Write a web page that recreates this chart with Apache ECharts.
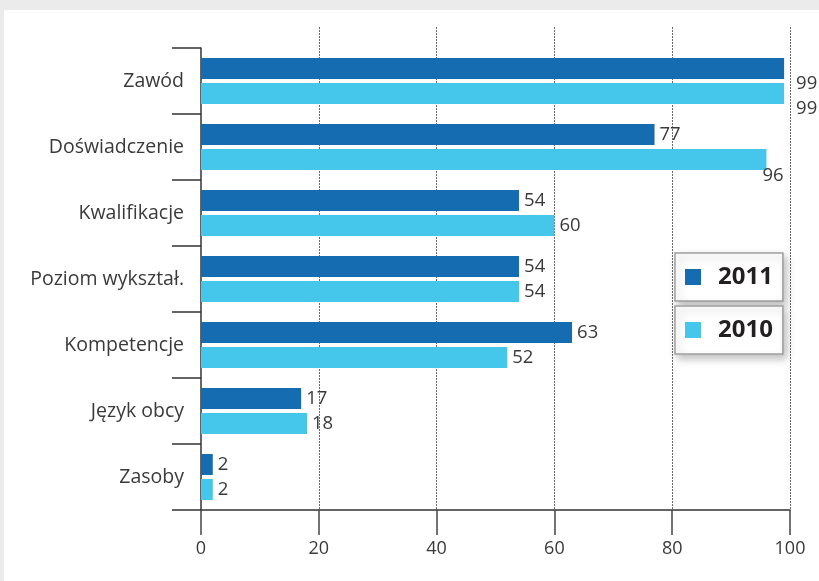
<!DOCTYPE html>
<html><head><meta charset="utf-8">
<script src="https://cdn.jsdelivr.net/npm/echarts@6/dist/echarts.min.js"></script>
<style>
html,body{margin:0;padding:0;width:819px;height:581px;background:#ebebeb;overflow:hidden;}
#c{position:absolute;left:4px;top:10px;width:815px;height:571px;background:#fff;}
</style></head>
<body><div id="c"></div>
<script>
const categories = ['Zawód','Doświadczenie','Kwalifikacje','Poziom wykształ.','Kompetencje','Język obcy','Zasoby'];
const seriesNames = ['2011','2010'];
const values2011 = [99,77,54,54,63,17,2];
const values2010 = [99,96,60,54,52,18,2];
const xMin = 0, xMax = 100, xStep = 20;

// label nudges (style only), keyed by series name then category index
const labelNudge = {
  '2011': {0:[7,15]},
  '2010': {0:[7,15], 1:[-9,16]}
};
function build(name, vals){
  return vals.map((v,i)=>{
    const n = labelNudge[name][i];
    return n ? {value:v, label:{offset:n}} : v;
  });
}
const fontFam = '"Open Sans", "Noto Sans", sans-serif';
function legendBox(name, top){
  return {data:[name], left:671, top:top, orient:'horizontal', selectedMode:false,
     icon:'rect', itemWidth:16, itemHeight:16, padding:[12,10,12,10],
     backgroundColor:'#fff', borderColor:'#9e9e9e', borderWidth:1.5,
     shadowBlur:8, shadowColor:'rgba(0,0,0,0.25)', shadowOffsetX:3, shadowOffsetY:4,
     textStyle:{fontSize:24, fontWeight:'bold', color:'#231f20', fontFamily:fontFam, lineHeight:16, padding:[0,0,0,12]}};
}
const chart = echarts.init(document.getElementById('c'), null, {renderer:'canvas'});
chart.setOption({
  animation:false,
  backgroundColor:'#ffffff',
  grid:[
    {left:197, right:29, top:38, bottom:71, containLabel:false},
    {left:197, right:29, top:17, bottom:71, containLabel:false}
  ],
  xAxis:[
    {type:'value', gridIndex:0, min:xMin, max:xMax, interval:xStep,
     axisLine:{show:true, lineStyle:{color:'#333', width:1.5}},
     axisTick:{show:true, length:25, lineStyle:{color:'#444', width:1.5}},
     axisLabel:{margin:30, fontSize:18, color:'#3a3a3a', fontFamily:fontFam},
     splitLine:{show:false}},
    {type:'value', gridIndex:1, min:xMin, max:xMax, interval:xStep,
     axisLine:{show:false}, axisTick:{show:false}, axisLabel:{show:false},
     splitLine:{show:true, showMinLine:false, lineStyle:{color:'#6a6a6a', width:1, type:[2,1]}}}
  ],
  yAxis:[
    {type:'category', gridIndex:0, data:categories, inverse:true,
     axisLine:{show:true, lineStyle:{color:'#333', width:1.5}},
     axisTick:{show:true, length:29, lineStyle:{color:'#333', width:1.5}},
     axisLabel:{margin:17, fontSize:19.5, color:'#3a3a3a', fontFamily:fontFam},
     splitLine:{show:false}},
    {type:'category', gridIndex:1, data:categories, show:false}
  ],
  legend:[ legendBox(seriesNames[0], 243), legendBox(seriesNames[1], 296) ],
  series:[
    {name:seriesNames[0], type:'bar', xAxisIndex:0, yAxisIndex:0, data:build('2011', values2011),
     barWidth:21, barGap:'19%', itemStyle:{color:'#166cb1'},
     label:{show:true, position:'right', distance:5, fontSize:18.5, color:'#3a3a3a', fontFamily:fontFam}},
    {name:seriesNames[1], type:'bar', xAxisIndex:0, yAxisIndex:0, data:build('2010', values2010),
     barWidth:21, barGap:'19%', itemStyle:{color:'#45c6eb'},
     label:{show:true, position:'right', distance:5, fontSize:18.5, color:'#3a3a3a', fontFamily:fontFam}}
  ]
});
</script></body></html>
